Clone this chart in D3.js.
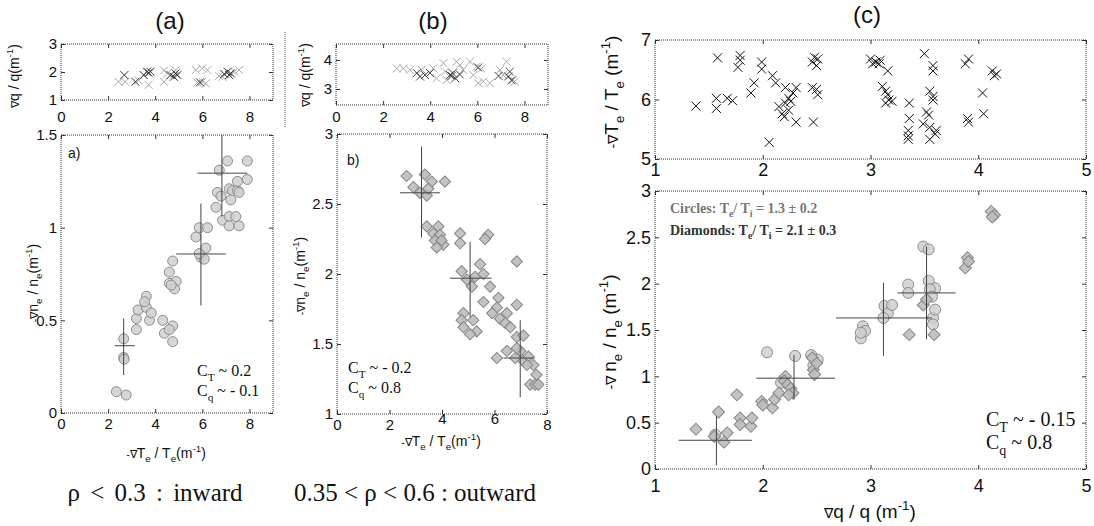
<!DOCTYPE html>
<html lang="en">
<head>
<meta charset="UTF-8">
<script src="https://d3js.org/d3.v7.min.js"></script>
<title>gradient scatter panels</title>
<style>
  body { margin: 0; background: #fff; }
  svg { display: block; }
</style>
</head>
<body>
<svg width="1094" height="526"></svg>
<script>
// ---- (a) rho < 0.3 ----
const aTopLight = [[2.44,1.65],[2.73,1.65],[3.3,1.7],[3.72,1.54],[4.37,1.65],[4.37,2.05],[4.51,1.95],[4.86,2.07],
  [5.72,2.07],[6.0,2.13],[6.22,2.07],[5.79,1.62],[6.0,1.65],[6.15,1.59],[6.71,1.86],[7.56,2.07],[6.86,1.83],[7.36,2.01]];
const aTopDark = [[2.69,1.89],[3.16,1.65],[3.51,1.89],[3.65,2.01],[3.8,2.01],[3.72,1.97],[4.65,1.89],[4.79,1.83],
  [4.94,1.89],[4.86,1.95],[7.07,2.01],[6.93,1.93],[7.14,1.89],[7.21,1.95],[5.9,1.63]];
const aCircles = [[2.35,0.115],[2.77,0.097],[2.66,0.40],[2.66,0.30],[2.68,0.29],[3.2,0.45],[3.2,0.51],[3.27,0.556],
  [3.62,0.63],[3.62,0.57],[3.76,0.50],[3.83,0.54],[3.55,0.60],[4.32,0.50],[4.39,0.43],[4.74,0.47],[4.74,0.385],
  [4.6,0.45],[4.6,0.76],[4.74,0.82],[4.6,0.70],[4.89,0.71],[4.82,0.67],[4.68,0.69],[5.73,0.95],[5.87,1.0],
  [6.22,1.0],[6.15,0.89],[5.94,0.84],[6.08,0.83],[5.87,0.86],[6.58,1.11],[6.64,1.19],[6.79,1.17],[7.14,1.21],
  [7.28,1.20],[7.49,1.20],[7.56,1.19],[7.49,1.25],[7.07,1.36],[7.91,1.36],[6.72,1.31],[6.86,1.04],[7.14,1.06],
  [7.14,1.01],[7.56,1.01],[7.42,1.06],[7.21,1.15],[7.91,1.26]];
const aErr = [
  {x:2.66, y:0.363, x0:2.28, x1:3.13, y0:0.205, y1:0.51},
  {x:5.94, y:0.858, x0:4.89, x1:7.0, y0:0.58, y1:1.13},
  {x:6.83, y:1.294, x0:5.8, x1:7.91, y0:1.06, y1:1.5}
];

// ---- (b) 0.35 < rho < 0.6 ----
const bTopLight = [[2.58,3.71],[2.86,3.71],[3.14,3.66],[3.64,3.66],[4.13,3.71],[4.56,3.89],[4.63,3.6],[5.12,3.94],
  [5.26,3.83],[5.40,3.66],[5.69,3.94],[5.97,3.77],[6.18,3.71],[5.83,3.48],[6.25,3.26],[6.04,3.2],[6.54,3.2],
  [6.96,3.66],[7.24,3.94],[7.1,3.48],[7.52,3.31],[7.59,3.26],[4.27,3.37],[4.7,3.31]];
const bTopDark = [[3.43,3.55],[3.78,3.48],[3.99,3.55],[3.57,3.43],[4.84,3.48],[4.91,3.45],[5.06,3.37],[4.95,3.55],
  [5.26,3.5],[6.04,3.74],[7.31,3.43],[7.38,3.6],[7.45,3.3],[6.9,3.45]];
const bDiamonds = [[2.65,2.70],[3.35,2.71],[3.61,2.66],[2.91,2.62],[3.16,2.58],[3.42,2.56],[4.11,2.66],[3.48,2.61],
  [3.42,2.34],[3.86,2.34],[3.67,2.29],[3.92,2.28],[3.73,2.24],[4.05,2.21],[3.80,2.19],[3.98,2.24],[4.69,2.29],
  [4.69,2.22],[5.76,2.28],[5.64,2.25],[4.75,2.02],[4.95,1.96],[5.14,1.91],[5.26,1.98],[5.45,2.07],[5.58,2.0],
  [5.83,1.91],[5.58,1.80],[4.82,1.72],[4.75,1.67],[4.82,1.62],[5.19,1.67],[5.32,1.59],[5.07,1.57],[6.15,1.83],
  [6.09,1.76],[5.91,1.72],[6.21,1.68],[6.47,1.72],[6.41,1.65],[6.85,1.78],[6.6,1.62],[6.85,2.09],[6.09,1.40],
  [6.85,1.55],[7.1,1.56],[6.98,1.45],[7.1,1.38],[6.79,1.40],[7.29,1.41],[7.48,1.35],[7.24,1.35],[7.6,1.28],
  [7.36,1.21],[7.55,1.21],[7.67,1.21],[6.85,1.47],[6.47,1.45]];
const bErr = [
  {x:3.22, y:2.58, x0:2.4, x1:3.92, y0:2.26, y1:2.91},
  {x:5.07, y:1.97, x0:4.3, x1:5.89, y0:1.69, y1:2.23},
  {x:6.98, y:1.40, x0:6.34, x1:7.54, y0:1.12, y1:1.67}
];

// ---- (c) ----
const cTop = [[1.38,5.89],[1.57,6.02],[1.57,5.85],[1.67,6.02],[1.72,5.98],[1.58,6.70],[1.77,6.54],[1.79,6.66],
  [1.79,6.74],[1.89,6.11],[1.92,6.28],[1.99,6.51],[1.99,6.63],[2.09,6.40],[2.12,6.28],[2.06,5.28],[2.15,5.88],
  [2.18,5.76],[2.2,5.71],[2.21,5.94],[2.21,6.20],[2.24,6.02],[2.26,5.97],[2.28,6.11],[2.31,6.20],[2.31,5.62],
  [2.24,5.82],[2.46,6.63],[2.48,6.71],[2.5,6.57],[2.51,6.68],[2.46,6.20],[2.5,6.17],[2.51,6.08],[2.47,5.62],
  [3.0,6.68],[3.05,6.63],[3.08,6.60],[3.02,6.60],[3.09,6.66],[3.16,6.48],[3.11,6.22],[3.14,6.14],[3.16,6.08],
  [3.17,5.99],[3.14,5.94],[3.2,5.97],[3.36,5.94],[3.36,5.68],[3.35,5.48],[3.35,5.39],[3.35,5.33],[3.49,5.59],
  [3.52,5.79],[3.54,5.74],[3.55,5.53],[3.55,5.33],[3.6,5.42],[3.61,5.48],[3.5,6.77],[3.58,6.57],[3.58,6.48],
  [3.55,6.14],[3.58,6.05],[3.58,5.99],[3.88,6.60],[3.91,6.68],[3.9,5.68],[3.91,5.62],[4.04,6.11],[4.05,5.76],
  [4.13,6.48],[4.15,6.40],[4.17,6.43]];
const cCircles = [[2.04,1.26],[2.3,1.22],[2.45,1.23],[2.51,1.18],[2.17,0.93],[1.56,0.37],[2.91,1.41],[2.93,1.54],
  [2.95,1.49],[2.91,1.47],[3.13,1.76],[3.16,1.68],[3.2,1.77],[3.12,1.63],[3.35,1.99],[3.35,1.90],[3.49,2.40],
  [3.54,2.37],[3.54,2.03],[3.6,1.95],[3.55,1.94],[3.58,1.63],[3.58,1.56],[3.57,1.86],[3.6,1.72],[2.47,1.12]];
const cDiamonds = [[1.38,0.43],[1.59,0.615],[1.55,0.35],[1.67,0.39],[1.64,0.29],[1.76,0.80],[1.79,0.55],[1.79,0.48],
  [1.89,0.46],[1.9,0.55],[1.99,0.73],[2.0,0.69],[2.09,0.66],[2.11,0.75],[2.15,0.82],[2.21,1.0],[2.2,0.95],
  [2.23,0.91],[2.26,0.87],[2.28,0.82],[2.24,0.80],[2.46,1.2],[2.47,1.07],[2.5,1.14],[2.48,1.02],[3.36,1.45],
  [3.49,1.77],[3.52,1.83],[3.59,1.45],[3.88,2.17],[3.9,2.28],[3.91,2.24],[4.12,2.78],[4.15,2.74],[4.13,2.72]];
const cErr = [
  {x:1.57, y:0.31, x0:1.22, x1:1.9, y0:0.04, y1:0.57},
  {x:2.29, y:0.98, x0:1.94, x1:2.67, y0:0.75, y1:1.23},
  {x:3.12, y:1.63, x0:2.68, x1:3.57, y0:1.22, y1:2.01},
  {x:3.52, y:1.90, x0:3.25, x1:3.79, y0:1.40, y1:2.4}
];

const svg = d3.select("svg");
svg.append("rect").attr("width", 1094).attr("height", 526).attr("fill", "#fff");
const SANS = "Liberation Sans, Arial, sans-serif";
const SERIF = "Liberation Serif, Times New Roman, serif";
const fmt = d3.format("~g");

function panel(p) {
  const x = d3.scaleLinear().domain(p.xd).range([p.l, p.r]);
  const y = d3.scaleLinear().domain(p.yd).range([p.b, p.t]);
  const g = svg.append("g");
  const axes = [
    g.append("g").attr("transform", `translate(0,${p.b})`)
      .call(d3.axisBottom(x).tickValues(p.xt).tickSizeInner(-4).tickSizeOuter(0).tickPadding(p.xpad).tickFormat(fmt)),
    g.append("g").attr("transform", `translate(0,${p.t})`)
      .call(d3.axisTop(x).tickValues(p.xt).tickSizeInner(-4).tickSizeOuter(0).tickFormat("")),
    g.append("g").attr("transform", `translate(${p.l},0)`)
      .call(d3.axisLeft(y).tickValues(p.yt).tickSizeInner(-4).tickSizeOuter(0).tickPadding(4).tickFormat(fmt)),
    g.append("g").attr("transform", `translate(${p.r},0)`)
      .call(d3.axisRight(y).tickValues(p.yt).tickSizeInner(-4).tickSizeOuter(0).tickFormat(""))
  ];
  axes.forEach(a => a.attr("font-family", SANS).attr("font-size", p.fs));
  g.selectAll(".domain").remove();
  g.selectAll(".tick line").attr("stroke", "#333");
  g.selectAll(".tick text").attr("fill", "#111");
  g.append("rect")
    .attr("x", p.l).attr("y", p.t).attr("width", p.r - p.l).attr("height", p.b - p.t)
    .attr("fill", "none").attr("stroke", "#333").attr("stroke-dasharray", "1,1");
  return { x, y, g, axes };
}

function crosses(P, data, h, color) {
  P.g.append("g").selectAll("path").data(data).join("path")
    .attr("d", d => {
      const cx = P.x(d[0]), cy = P.y(d[1]);
      return `M${cx - h},${cy - h}L${cx + h},${cy + h}M${cx - h},${cy + h}L${cx + h},${cy - h}`;
    })
    .attr("stroke", color).attr("stroke-width", 1).attr("fill", "none");
}

function circles(P, data, r) {
  P.g.append("g").selectAll("circle").data(data).join("circle")
    .attr("cx", d => P.x(d[0])).attr("cy", d => P.y(d[1])).attr("r", r)
    .attr("fill", "#cfcfcf").attr("fill-opacity", 0.85)
    .attr("stroke", "#8c8c8c").attr("stroke-width", 1);
}

function diamonds(P, data, area) {
  const sym = d3.symbol(d3.symbolSquare, area);
  P.g.append("g").selectAll("path").data(data).join("path")
    .attr("d", sym)
    .attr("transform", d => `translate(${P.x(d[0])},${P.y(d[1])}) rotate(45)`)
    .attr("fill", "#bdbdbd").attr("fill-opacity", 0.9)
    .attr("stroke", "#858585").attr("stroke-width", 1);
}

function errs(P, data) {
  const e = P.g.append("g").attr("stroke", "#444").attr("stroke-width", 1);
  e.selectAll("line.h").data(data).join("line").attr("class", "h")
    .attr("x1", d => P.x(d.x0)).attr("x2", d => P.x(d.x1))
    .attr("y1", d => P.y(d.y)).attr("y2", d => P.y(d.y));
  e.selectAll("line.v").data(data).join("line").attr("class", "v")
    .attr("x1", d => P.x(d.x)).attr("x2", d => P.x(d.x))
    .attr("y1", d => P.y(d.y0)).attr("y2", d => P.y(d.y1));
}

// text with sub/superscripts: mode 0 normal, 1 sub, 2 sup, 3 small nabla
function rich(t, parts, fs) {
  let shift = 0;
  parts.forEach(([s, m]) => {
    const want = m === 1 ? 0.3 * fs : m === 2 ? -0.4 * fs : 0;
    t.append("tspan").attr("dy", want - shift)
      .attr("font-size", m === 1 || m === 2 ? fs * 0.7 : m === 3 ? fs * 0.75 : fs)
      .text(s);
    shift = want;
  });
  return t;
}

function label(x, y, parts, fs, opt = {}) {
  const t = svg.append("text")
    .attr("transform", `translate(${x},${y})` + (opt.rot ? " rotate(-90)" : ""))
    .attr("text-anchor", opt.anchor || "middle")
    .attr("font-family", opt.family || SANS)
    .attr("font-weight", opt.weight || "normal")
    .attr("fill", opt.fill || "#111")
    .attr("font-size", fs);
  if (opt.ws) t.attr("word-spacing", opt.ws);
  return rich(t, parts, fs);
}

const NQ = [["∇", 3], ["q / q(m", 0], ["-1", 2], [")", 0]];
const NN = [["-∇", 3], ["n", 0], ["e", 1], [" / n", 0], ["e", 1], ["(m", 0], ["-1", 2], [")", 0]];
const NT = [["-∇", 3], ["T", 0], ["e", 1], [" / T", 0], ["e", 1], ["(m", 0], ["-1", 2], [")", 0]];

// ---------- panel (a) ----------
const aT = panel({ l: 61, r: 273, t: 44, b: 100, xd: [0, 9], yd: [1, 3], xt: [0, 2, 4, 6, 8], yt: [1, 2, 3], fs: 15, xpad: 11 });
crosses(aT, aTopLight, 4, "#a8a8a8");
crosses(aT, aTopDark, 4, "#333");
const aB = panel({ l: 61, r: 273, t: 135, b: 413, xd: [0, 9], yd: [0, 1.5], xt: [0, 2, 4, 6, 8], yt: [0, 0.5, 1, 1.5], fs: 15, xpad: 5 });
circles(aB, aCircles, 5);
errs(aB, aErr);

// ---------- panel (b) ----------
const bT = panel({ l: 336, r: 548, t: 44, b: 105, xd: [0, 9], yd: [2.45, 4.55], xt: [0, 2, 4, 6, 8], yt: [3, 4], fs: 15, xpad: 6 });
crosses(bT, bTopLight, 4, "#a8a8a8");
crosses(bT, bTopDark, 4, "#444");
const bB = panel({ l: 337, r: 547, t: 134, b: 414, xd: [0, 8], yd: [1, 3], xt: [0, 2, 4, 6, 8], yt: [1, 1.5, 2, 2.5, 3], fs: 15, xpad: 5 });
diamonds(bB, bDiamonds, 64);
errs(bB, bErr);
// the middle tick labels sit a little higher here, as in the figure
bB.axes[0].selectAll(".tick text").filter(d => d === 4 || d === 6).attr("y", -1);

// ---------- panel (c) ----------
const cT = panel({ l: 655, r: 1086, t: 40, b: 159, xd: [1, 5], yd: [5, 7], xt: [1, 2, 3, 4, 5], yt: [5, 6, 7], fs: 18, xpad: 4 });
crosses(cT, cTop, 4.5, "#111");
const cB = panel({ l: 655, r: 1086, t: 191, b: 469, xd: [1, 5], yd: [0, 3], xt: [1, 2, 3, 4, 5], yt: [0, 0.5, 1, 1.5, 2, 2.5, 3], fs: 18, xpad: 10 });
circles(cB, cCircles, 5.5);
diamonds(cB, cDiamonds, 72);
errs(cB, cErr);

// separator between (a) and (b)
svg.append("line").attr("x1", 285).attr("x2", 285).attr("y1", 32).attr("y2", 128)
  .attr("stroke", "#555").attr("stroke-dasharray", "1,1");

// titles
label(170, 29, [["(a)", 0]], 24);
label(433, 29, [["(b)", 0]], 24);
label(867, 23, [["(c)", 0]], 24);

// axis labels
label(19, 76, NQ, 14, { rot: true });
label(38, 283, NN, 14, { rot: true });
label(166, 458, NT, 14);
label(310, 75, NQ, 14, { rot: true });
label(305, 276, NN, 14, { rot: true });
label(441, 446, NT, 14);
label(618, 92, [["-∇", 3], ["T", 0], ["e", 1], [" / T", 0], ["e", 1], [" (m", 0], ["-1", 2], [")", 0]], 19, { rot: true });
label(616, 332, [["-∇ ", 3], ["n", 0], ["e", 1], [" / n", 0], ["e", 1], [" (m", 0], ["-1", 2], [")", 0]], 19, { rot: true });
label(870, 518, [["∇", 3], ["q / q (m", 0], ["-1", 2], [")", 0]], 19);

// in-plot notes
label(68, 158, [["a)", 0]], 14, { anchor: "start" });
label(347, 165, [["b)", 0]], 14, { anchor: "start" });
label(197, 376, [["C", 0], ["T", 1], [" ~ 0.2", 0]], 16, { anchor: "start", family: SERIF });
label(197, 396, [["C", 0], ["q", 1], [" ~ - 0.1", 0]], 16, { anchor: "start", family: SERIF });
label(348, 373, [["C", 0], ["T", 1], [" ~ - 0.2", 0]], 16, { anchor: "start", family: SERIF });
label(348, 393, [["C", 0], ["q", 1], [" ~ 0.8", 0]], 16, { anchor: "start", family: SERIF });
label(986, 426, [["C", 0], ["T", 1], [" ~ - 0.15", 0]], 20, { anchor: "start", family: SERIF });
label(986, 449, [["C", 0], ["q", 1], [" ~ 0.8", 0]], 20, { anchor: "start", family: SERIF });
label(670, 213, [["Circles: T", 0], ["e", 1], ["/ T", 0], ["i", 1], [" = 1.3 ± 0.2", 0]], 14, { anchor: "start", family: SERIF, weight: "bold", fill: "#777" });
label(670, 235, [["Diamonds: T", 0], ["e", 1], ["/ T", 0], ["i", 1], [" = 2.1 ± 0.3", 0]], 14, { anchor: "start", family: SERIF, weight: "bold", fill: "#333" });

// bottom captions
label(155, 501, [["ρ < 0.3 : inward", 0]], 25, { family: SERIF, ws: 4 });
label(415, 501, [["0.35 < ρ < 0.6 : outward", 0]], 25, { family: SERIF });
</script>
</body>
</html>
